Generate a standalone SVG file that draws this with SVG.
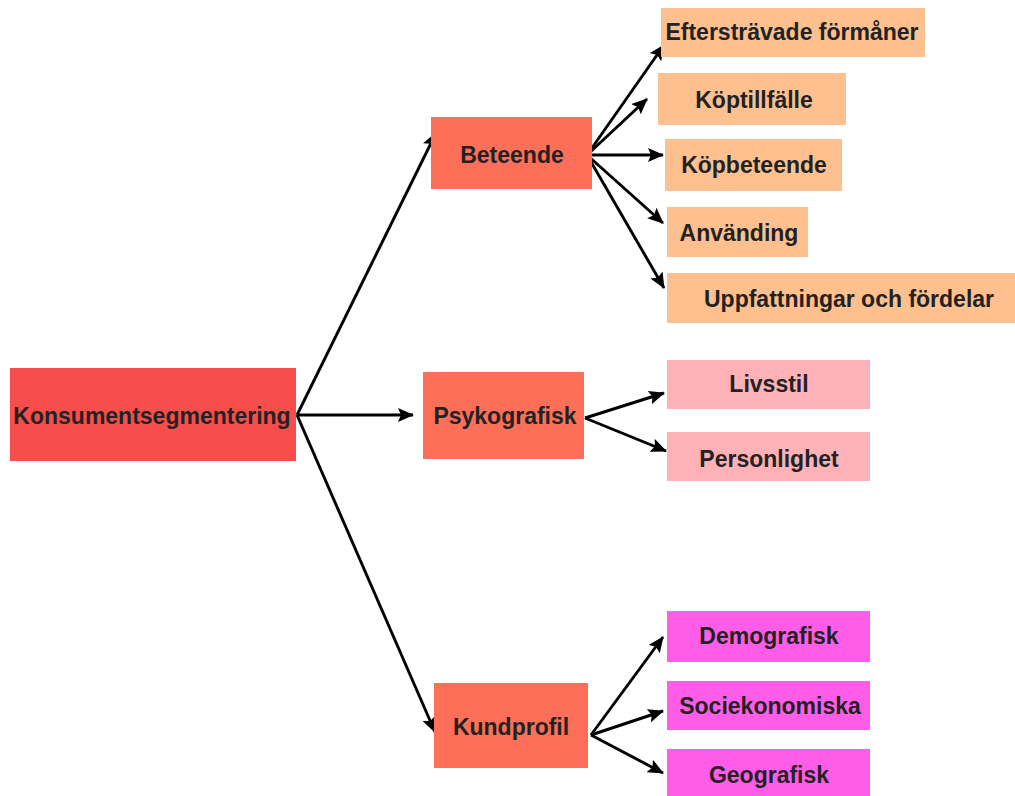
<svg xmlns="http://www.w3.org/2000/svg" width="1015" height="796" viewBox="0 0 1015 796">
<style>
.lbl{font-family:"Liberation Sans",Arial,Helvetica,sans-serif;font-weight:bold;font-size:23px;fill:#222;text-anchor:middle}
.root{fill:#F84E4B}
.mid{fill:#FE6F5A}
.peach{fill:#FFC08F}
.pink{fill:#FFB1B8}
.mag{fill:#FF5DE8}
.con line{stroke:#000;stroke-width:2.9;marker-end:url(#ah)}
</style>
<defs>
<marker id="ah" markerUnits="userSpaceOnUse" markerWidth="16" markerHeight="14" viewBox="0 0 16 14" refX="15" refY="7" orient="auto">
<path d="M0,0 L16,7 L0,14 L3,7 z" fill="#000"/>
</marker>
</defs>
<rect width="1015" height="796" fill="#fff"/>
<g class="con" id="connectors">
<line x1="297" y1="415" x2="436" y2="133"/>
<line x1="297" y1="415" x2="413" y2="415"/>
<line x1="297" y1="415" x2="435" y2="732"/>
<line x1="587" y1="155" x2="664" y2="45"/>
<line x1="587" y1="155" x2="647" y2="99"/>
<line x1="587" y1="155" x2="663" y2="155"/>
<line x1="587" y1="155" x2="663" y2="223"/>
<line x1="587" y1="155" x2="664" y2="288"/>
<line x1="585" y1="418" x2="664" y2="393"/>
<line x1="585" y1="418" x2="666" y2="451"/>
<line x1="591" y1="735" x2="663" y2="637"/>
<line x1="591" y1="735" x2="663" y2="711"/>
<line x1="591" y1="735" x2="663" y2="773"/>
</g>
<g id="n-konsument"><rect class="root" x="10" y="368" width="286" height="93"/><text class="lbl" x="152" y="424">Konsumentsegmentering</text></g>
<g id="n-beteende"><rect class="mid" x="431" y="117" width="161" height="72"/><text class="lbl" x="512" y="163">Beteende</text></g>
<g id="n-psykografisk"><rect class="mid" x="423" y="372" width="161" height="87"/><text class="lbl" x="505" y="424">Psykografisk</text></g>
<g id="n-kundprofil"><rect class="mid" x="434" y="683" width="154" height="85"/><text class="lbl" x="511" y="735">Kundprofil</text></g>
<g id="n-efterstr"><rect class="peach" x="661" y="8" width="264" height="49"/><text class="lbl" x="792" y="40">Eftersträvade förmåner</text></g>
<g id="n-koptillfalle"><rect class="peach" x="658" y="73" width="188" height="52"/><text class="lbl" x="754" y="108">Köptillfälle</text></g>
<g id="n-kopbeteende"><rect class="peach" x="665" y="139" width="177" height="52"/><text class="lbl" x="754" y="173">Köpbeteende</text></g>
<g id="n-anvanding"><rect class="peach" x="667" y="207" width="141" height="50"/><text class="lbl" x="739" y="241">Använding</text></g>
<g id="n-uppfattningar"><rect class="peach" x="667" y="273" width="348" height="50"/><text class="lbl" x="849" y="307">Uppfattningar och fördelar</text></g>
<g id="n-livsstil"><rect class="pink" x="667" y="360" width="203" height="49"/><text class="lbl" x="769" y="392">Livsstil</text></g>
<g id="n-personlighet"><rect class="pink" x="667" y="432" width="203" height="49"/><text class="lbl" x="769" y="467">Personlighet</text></g>
<g id="n-demografisk"><rect class="mag" x="667" y="611" width="203" height="51"/><text class="lbl" x="769" y="644">Demografisk</text></g>
<g id="n-sociekonomiska"><rect class="mag" x="667" y="681" width="203" height="49"/><text class="lbl" x="770" y="714">Sociekonomiska</text></g>
<g id="n-geografisk"><rect class="mag" x="667" y="749" width="203" height="47"/><text class="lbl" x="769" y="783">Geografisk</text></g>
</svg>
